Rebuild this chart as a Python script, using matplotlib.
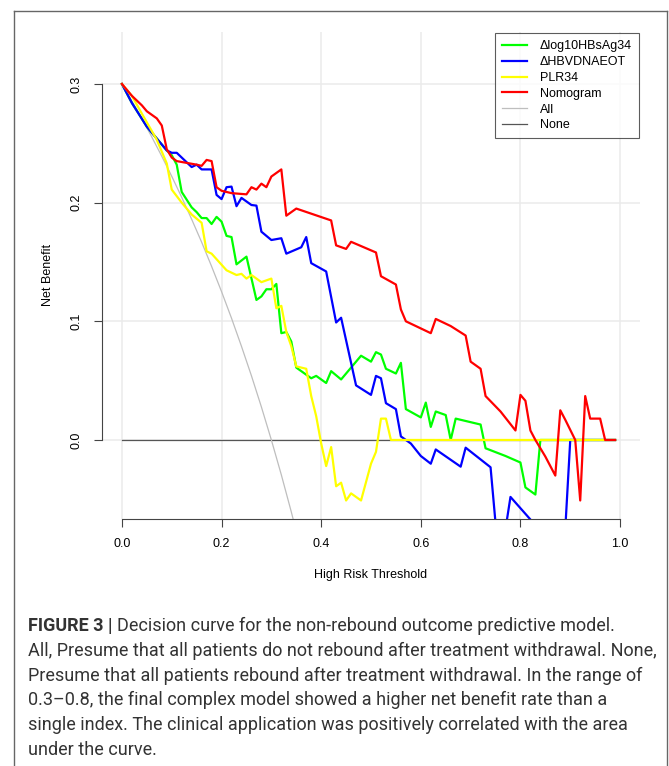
import matplotlib
matplotlib.use('Agg')
import matplotlib.pyplot as plt
from matplotlib.lines import Line2D

plt.rcParams['font.family'] = ['Liberation Sans', 'DejaVu Sans']

##############################################
# Decision curve data
##############################################
green_x = [0.00, 0.02, 0.05, 0.08, 0.09, 0.10, 0.11, 0.12, 0.14, 0.15, 0.16, 0.17, 0.18, 0.19, 0.20,
           0.21, 0.22, 0.23, 0.25, 0.27, 0.28, 0.29, 0.30, 0.31, 0.32, 0.33, 0.34, 0.35, 0.38, 0.39,
           0.41, 0.42, 0.44, 0.48, 0.50, 0.51, 0.52, 0.53, 0.55, 0.56, 0.57, 0.60, 0.61, 0.62, 0.63,
           0.65, 0.66, 0.67, 0.72, 0.73, 0.77, 0.80, 0.81, 0.83, 0.84, 0.99]
green_y = [0.300, 0.284, 0.264, 0.249, 0.244, 0.240, 0.232, 0.209, 0.196, 0.192, 0.187, 0.187, 0.182, 0.188, 0.184,
           0.172, 0.171, 0.148, 0.1545, 0.118, 0.121, 0.127, 0.127, 0.1315, 0.090, 0.091, 0.083, 0.061, 0.052, 0.054,
           0.048, 0.058, 0.051, 0.071, 0.066, 0.074, 0.072, 0.060, 0.056, 0.065, 0.026, 0.019, 0.0315, 0.011, 0.024,
           0.021, 0.000, 0.018, 0.013, -0.007, -0.0135, -0.019, -0.040, -0.046, 0.000, 0.000]

blue_x = [0.00, 0.02, 0.05, 0.08, 0.09, 0.10, 0.11, 0.12, 0.14, 0.15, 0.16, 0.18, 0.19, 0.20, 0.21,
          0.22, 0.23, 0.24, 0.26, 0.27, 0.28, 0.30, 0.32, 0.33, 0.36, 0.37, 0.38, 0.41, 0.43, 0.44,
          0.47, 0.50, 0.51, 0.52, 0.53, 0.55, 0.56, 0.58, 0.60, 0.62, 0.63, 0.68, 0.69, 0.74, 0.75,
          0.76, 0.77, 0.78, 0.82, 0.83, 0.88, 0.89, 0.90, 0.99]
blue_y = [0.300, 0.284, 0.264, 0.249, 0.244, 0.242, 0.242, 0.238, 0.230, 0.232, 0.228, 0.228, 0.2065, 0.203, 0.213,
          0.2135, 0.197, 0.204, 0.198, 0.1975, 0.1755, 0.1685, 0.170, 0.157, 0.1624, 0.171, 0.149, 0.142, 0.099, 0.103,
          0.046, 0.038, 0.054, 0.052, 0.031, 0.026, 0.003, -0.003, -0.0135, -0.020, -0.008, -0.0225, -0.0065, -0.023, -0.070,
          -0.090, -0.075, -0.048, -0.067, -0.090, -0.100, -0.075, 0.000, 0.000]

yellow_x = [0.00, 0.02, 0.04, 0.07, 0.09, 0.10, 0.12, 0.14, 0.16, 0.17, 0.18, 0.21, 0.23, 0.24, 0.25,
            0.26, 0.28, 0.30, 0.31, 0.32, 0.33, 0.34, 0.35, 0.37, 0.38, 0.39, 0.40, 0.41, 0.42, 0.43,
            0.44, 0.45, 0.46, 0.48, 0.50, 0.51, 0.52, 0.53, 0.54, 0.99]
yellow_y = [0.300, 0.290, 0.275, 0.253, 0.233, 0.211, 0.200, 0.190, 0.183, 0.159, 0.157, 0.143, 0.139, 0.140, 0.136,
            0.139, 0.133, 0.136, 0.111, 0.113, 0.091, 0.079, 0.062, 0.060, 0.037, 0.020, -0.003, -0.022, -0.006, -0.039,
            -0.036, -0.051, -0.045, -0.051, -0.020, -0.010, 0.018, 0.018, 0.000, 0.000]

red_x = [0.00, 0.02, 0.04, 0.05, 0.07, 0.08, 0.09, 0.10, 0.11, 0.15, 0.16, 0.17, 0.18, 0.19, 0.20,
         0.22, 0.25, 0.26, 0.27, 0.28, 0.29, 0.30, 0.32, 0.33, 0.35, 0.42, 0.43, 0.45, 0.46, 0.51,
         0.52, 0.55, 0.56, 0.57, 0.62, 0.63, 0.66, 0.69, 0.70, 0.72, 0.73, 0.76, 0.79, 0.80, 0.81,
         0.82, 0.83, 0.85, 0.87, 0.88, 0.89, 0.91, 0.92, 0.93, 0.94, 0.96, 0.97, 0.99]
red_y = [0.300, 0.290, 0.282, 0.277, 0.271, 0.265, 0.245, 0.238, 0.235, 0.232, 0.231, 0.236, 0.235, 0.213, 0.210,
         0.208, 0.207, 0.213, 0.211, 0.216, 0.213, 0.222, 0.228, 0.189, 0.195, 0.185, 0.164, 0.161, 0.167, 0.158,
         0.138, 0.131, 0.110, 0.100, 0.090, 0.102, 0.096, 0.088, 0.066, 0.060, 0.037, 0.024, 0.008, 0.038, 0.033,
         0.008, 0.000, -0.014, -0.030, 0.025, 0.017, 0.000, -0.051, 0.037, 0.018, 0.018, 0.000, 0.000]

all_x = [0.00, 0.02, 0.04, 0.06, 0.08, 0.10, 0.12, 0.14, 0.16, 0.18, 0.20, 0.22, 0.24, 0.26, 0.28, 0.30, 0.32, 0.34, 0.36]
all_y = [0.300, 0.2857, 0.2708, 0.2553, 0.2391, 0.2222, 0.2045, 0.1860, 0.1667, 0.1463, 0.125, 0.1026, 0.0789,
         0.0541, 0.0278, 0.000, -0.0294, -0.0606, -0.0938]

none_x = [0.00, 0.99]
none_y = [0.0, 0.0]

labels = ['\u0394log10HBsAg34', '\u0394HBVDNAEOT', 'PLR34', 'Nomogram', 'All', 'None']

##############################################
# Plot
##############################################
W, H = 669, 766
fig = plt.figure(figsize=(W / 100, H / 100), dpi=100)
ax = fig.add_axes([102 / W, 1 - 519 / H, (640 - 102) / W, (519 - 32) / H])

ln_none, = ax.plot(none_x, none_y, color='#555555', lw=0.9)
ln_all, = ax.plot(all_x, all_y, color='#BEBEBE', lw=0.9)
ln_g, = ax.plot(green_x, green_y, color='#00FF00', lw=1.6)
ln_b, = ax.plot(blue_x, blue_y, color='#0000FF', lw=1.6)
ln_y, = ax.plot(yellow_x, yellow_y, color='#FFFF00', lw=1.6)
ln_r, = ax.plot(red_x, red_y, color='#FF0000', lw=1.6)

ax.set_xlim(-0.04, 1.04)
ax.set_ylim(-0.0666, 0.3438)
ax.set_xticks([0.0, 0.2, 0.4, 0.6, 0.8, 1.0])
ax.set_xticklabels(['0.0', '0.2', '0.4', '0.6', '0.8', '1.0'])
ax.set_yticks([0.0, 0.1, 0.2, 0.3])
ax.set_yticklabels(['0.0', '0.1', '0.2', '0.3'], rotation=90, va='center')
ax.grid(True, color='#EBEBEB', lw=1.1)
ax.set_axisbelow(True)

for s in ['top', 'right']:
    ax.spines[s].set_visible(False)
ax.spines['left'].set_bounds(0.0, 0.3)
ax.spines['bottom'].set_bounds(0.0, 1.0)
for s in ['left', 'bottom']:
    ax.spines[s].set_color('#444444')
    ax.spines[s].set_linewidth(0.8)
ax.tick_params(direction='out', length=6, width=0.8, color='#444444', labelsize=9, pad=8)

fig.text(371 / W, 1 - 575 / H, 'High Risk Threshold', ha='center', va='center', fontsize=9)
fig.text(48 / W, 1 - 275 / H, 'Net Benefit', ha='center', va='center', rotation=90, fontsize=9)

leg = ax.legend([ln_g, ln_b, ln_y, ln_r, ln_all, ln_none], labels, loc='upper right',
                fontsize=9, frameon=True, fancybox=False, borderaxespad=0.1,
                handlelength=2.0, handletextpad=1.0, labelspacing=0.31, borderpad=0.55)
leg.get_frame().set_edgecolor('#333333')
leg.get_frame().set_linewidth(0.8)

##############################################
# Caption box
##############################################
border = dict(transform=fig.transFigure, color='#666666', lw=1.0)
fig.add_artist(Line2D([14 / W, 14 / W], [0, 1 - 11 / H], **border))
fig.add_artist(Line2D([14 / W, 667 / W], [1 - 11 / H, 1 - 11 / H], **border))
fig.add_artist(Line2D([667 / W, 667 / W], [0, 1 - 11 / H], **border))

caption = [
    'Decision curve for the non-rebound outcome predictive model.',
    'All, Presume that all patients do not rebound after treatment withdrawal. None,',
    'Presume that all patients rebound after treatment withdrawal. In the range of',
    '0.3\u20130.8, the final complex model showed a higher net benefit rate than a',
    'single index. The clinical application was positively correlated with the area',
    'under the curve.',
]
cap_y = [626, 651, 676, 700, 725, 750]
cap_font = dict(family=['Roboto', 'DejaVu Sans'], fontsize=12.95, color='#333333', va='center')

renderer = fig.canvas.get_renderer()
head = fig.text(28 / W, 1 - cap_y[0] / H, 'FIGURE 3 |', weight='bold', **cap_font)
bb = head.get_window_extent(renderer)
fig.text((bb.x1 + 5) / W, 1 - cap_y[0] / H, caption[0], **cap_font)
for txt, yy in zip(caption[1:], cap_y[1:]):
    fig.text(28 / W, 1 - yy / H, txt, **cap_font)

fig.savefig('out.png', dpi=100)
